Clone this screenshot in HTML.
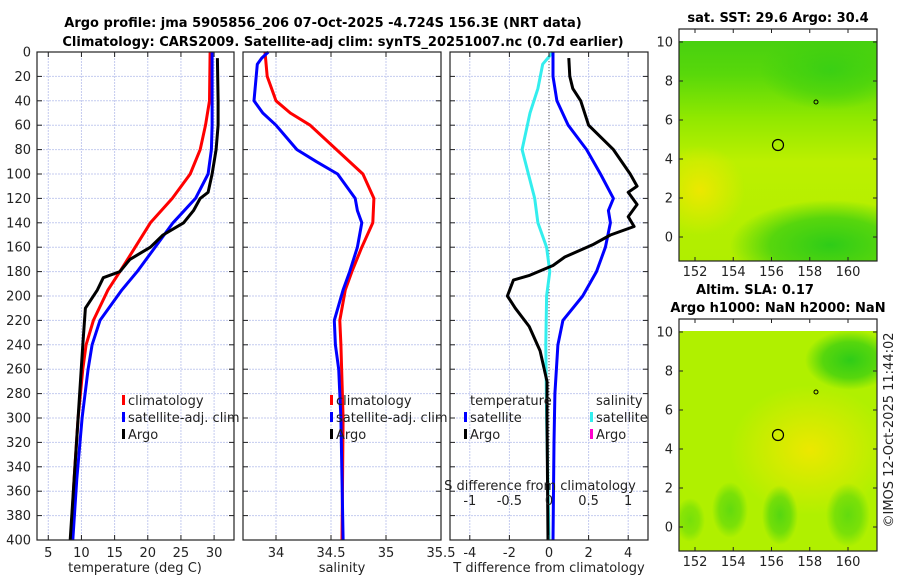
<!DOCTYPE html>
<html><head><meta charset="utf-8"><style>
body{margin:0;background:#fff;}
svg{display:block;font-family:"DejaVu Sans","Liberation Sans",sans-serif;}
</style></head><body>
<svg id="s" width="900" height="580" viewBox="0 0 900 580">
<rect width="900" height="580" fill="#fff"/>
<text x="323" y="27" font-size="13" font-weight="bold" text-anchor="middle">Argo profile: jma 5905856_206 07-Oct-2025 -4.724S 156.3E (NRT data)</text>
<text x="343" y="46" font-size="13" font-weight="bold" text-anchor="middle">Climatology: CARS2009. Satellite-adj clim: synTS_20251007.nc (0.7d earlier)</text>
<defs>
<radialGradient id="g1a" cx="0.5" cy="0.5" r="0.5"><stop offset="0" stop-color="#2ecc18"/><stop offset="0.6" stop-color="#40d010" stop-opacity="0.8"/><stop offset="1" stop-color="#40d010" stop-opacity="0"/></radialGradient>
<radialGradient id="g1b" cx="0.5" cy="0.5" r="0.5"><stop offset="0" stop-color="#ece800"/><stop offset="1" stop-color="#ece800" stop-opacity="0"/></radialGradient>
<linearGradient id="m1top" x1="0" y1="0" x2="0" y2="1"><stop offset="0" stop-color="#48d010"/><stop offset="0.15" stop-color="#58d80a"/><stop offset="0.35" stop-color="#90e800"/><stop offset="0.55" stop-color="#bcf000"/><stop offset="1" stop-color="#b0ee00"/></linearGradient>
<clipPath id="c1"><rect x="679" y="41" width="198" height="220"/></clipPath>
<clipPath id="c2"><rect x="679" y="331" width="198" height="220"/></clipPath>
</defs>
<g id="map1" clip-path="url(#c1)">
<rect x="679" y="41" width="198" height="220" fill="url(#m1top)"/>
<ellipse cx="700" cy="190" rx="45" ry="45" fill="url(#g1b)"/>
<ellipse cx="830" cy="245" rx="100" ry="45" fill="url(#g1a)"/>
<ellipse cx="830" cy="70" rx="70" ry="40" fill="url(#g1a)" opacity="0.7"/>
<circle cx="778" cy="145" r="5.5" fill="none" stroke="#000" stroke-width="1.2"/>
<circle cx="816" cy="102" r="2" fill="none" stroke="#000"/>
</g>
<g id="map2" clip-path="url(#c2)">
<rect x="679" y="331" width="198" height="220" fill="#b0f000"/>
<ellipse cx="810" cy="450" rx="80" ry="65" fill="url(#g1b)"/>
<ellipse cx="850" cy="360" rx="45" ry="30" fill="url(#g1a)"/>
<ellipse cx="730" cy="510" rx="18" ry="28" fill="url(#g1a)" opacity="0.6"/>
<ellipse cx="780" cy="515" rx="18" ry="30" fill="url(#g1a)" opacity="0.7"/>
<ellipse cx="848" cy="515" rx="22" ry="32" fill="url(#g1a)" opacity="0.6"/>
<ellipse cx="690" cy="520" rx="15" ry="22" fill="url(#g1a)" opacity="0.45"/>
<circle cx="778" cy="435" r="5.5" fill="none" stroke="#000" stroke-width="1.2"/>
<circle cx="816" cy="392" r="2" fill="none" stroke="#000"/>
</g>
<text x="778" y="22" font-size="13" font-weight="bold" text-anchor="middle">sat. SST: 29.6 Argo: 30.4</text>
<text x="755" y="294" font-size="13" font-weight="bold" text-anchor="middle">Altim. SLA: 0.17</text>
<text x="778" y="312" font-size="13" font-weight="bold" text-anchor="middle">Argo h1000: NaN h2000: NaN</text>
<text transform="translate(893,430) rotate(-90)" font-size="13" text-anchor="middle" fill="#222">©IMOS 12-Oct-2025 11:44:02</text>
</svg>
<script>
// ---- data ----
const tDepth=[0,40,60,80,100,120,140,160,180,195,220,240,260,300,350,400];
const tClim=[29.4,29.3,28.7,27.9,26.4,23.7,20.4,18.1,15.8,14.0,11.8,10.7,10.2,9.5,8.9,8.4];
const tSatDepth=[0,60,80,100,120,140,160,180,195,220,240,260,300,350,400];
const tSat=[29.7,29.7,29.6,29.1,27.2,23.8,21.1,18.4,16.1,12.8,11.6,11.0,10.1,9.3,8.7];
const tArgoDepth=[5,40,60,80,100,115,120,130,140,150,160,170,180,185,195,210,240,300,400];
const tArgo=[30.5,30.6,30.6,30.3,29.7,29.1,27.9,26.9,25.4,22.3,20.4,17.3,15.8,13.3,12.4,10.6,10.2,9.5,8.3];
const sClimDepth=[0,20,40,50,60,80,100,120,140,160,180,195,220,240,300,400];
const sClim=[33.9,33.92,34.0,34.13,34.31,34.55,34.79,34.89,34.88,34.78,34.69,34.63,34.58,34.59,34.61,34.6];
const sSatDepth=[0,5,10,20,40,50,60,80,90,100,120,130,140,160,180,195,220,240,260,300,400];
const sSat=[33.93,33.87,33.83,33.82,33.8,33.88,34.0,34.19,34.37,34.56,34.72,34.74,34.78,34.74,34.67,34.61,34.53,34.54,34.57,34.59,34.61];
const dTSatDepth=[0,20,40,60,80,100,120,130,140,160,180,200,220,240,280,320,400];
const dTSat=[0.2,0.2,0.4,0.97,1.9,2.6,3.25,3.0,3.1,2.85,2.4,1.7,0.7,0.45,0.3,0.25,0.2];
const dTArgoDepth=[5,20,30,40,60,80,100,110,115,125,135,143,150,158,168,175,183,187,200,210,225,245,270,300,400];
const dTArgo=[1.0,1.05,1.2,1.6,2.0,3.25,4.1,4.45,4.0,4.45,4.0,4.3,3.1,2.2,0.8,0.2,-0.97,-1.8,-2.1,-1.7,-1.0,-0.45,-0.1,-0.1,-0.05];
const dSSatDepth=[0,10,30,50,80,100,120,140,160,180,200,240,300,400];
const dSSat=[0.05,-0.08,-0.14,-0.24,-0.34,-0.26,-0.18,-0.14,-0.03,0.01,-0.03,-0.04,-0.03,0.0];
const depthTicks=[0,20,40,60,80,100,120,140,160,180,200,220,240,260,280,300,320,340,360,380,400];
const tTicks=[5,10,15,20,25,30];
const sTicks=[34,34.5,35,35.5];
const dTTicks=[-4,-2,0,2,4];
const dSTicks=[-1,-0.5,0,0.5,1];
const dSTickLabels=["-1","-0.5","0","0.5","1"];
const lonTicks=[152,154,156,158,160];
const latTicks=[0,2,4,6,8,10];

const NS="http://www.w3.org/2000/svg";
const svg=document.getElementById('s');
function el(tag,attrs,parent){const e=document.createElementNS(NS,tag);for(const k in attrs)e.setAttribute(k,attrs[k]);(parent||svg).appendChild(e);return e;}
const Y0=52,Y1=540;
const yD=d=>Y0+d*(Y1-Y0)/400;
function lin(d0,d1,r0,r1){return v=>r0+(v-d0)*(r1-r0)/(d1-d0);}
const panels=[
 {x0:37,x1:234,f:lin(3.3,33.0,37,234)},
 {x0:243,x1:441,f:lin(33.7,35.5,243,441)},
 {x0:450,x1:648,f:lin(-5,5,450,648)}
];
const fS=lin(-1.25,1.25,450,648);
function line(xs,ds,fx,color,name){
  const p=el('polyline',{points:xs.map((v,i)=>fx(v).toFixed(1)+','+yD(ds[i]).toFixed(1)).join(' '),fill:'none',stroke:color,'stroke-width':3,'stroke-linejoin':'round'});
  
  
}
function grid(p,ticks,fx){
  depthTicks.forEach(d=>{el('line',{x1:p.x0,x2:p.x1,y1:yD(d),y2:yD(d),stroke:'#c4cbef','stroke-width':1,'stroke-dasharray':'2,1'});});
  ticks.forEach(t=>{el('line',{x1:fx(t),x2:fx(t),y1:Y0,y2:Y1,stroke:'#c4cbef','stroke-width':1,'stroke-dasharray':'2,1'});});
}
grid(panels[0],tTicks,panels[0].f);
grid(panels[1],sTicks,panels[1].f);
grid(panels[2],dTTicks,panels[2].f);
el('line',{x1:549,x2:549,y1:Y0,y2:Y1,stroke:'#555','stroke-width':1,'stroke-dasharray':'1,2'});
line(tClim,tDepth,panels[0].f,'#ff0000','temp-climatology-line');
line(tSat,tSatDepth,panels[0].f,'#0000ff','temp-satellite-line');
line(tArgo,tArgoDepth,panels[0].f,'#000000','temp-argo-line');
line(sClim,sClimDepth,panels[1].f,'#ff0000','sal-climatology-line');
line(sSat,sSatDepth,panels[1].f,'#0000ff','sal-satellite-line');
line(dSSat,dSSatDepth,fS,'#33eeee','sal-diff-satellite-line');
line(dTSat,dTSatDepth,panels[2].f,'#0000ff','temp-diff-satellite-line');
line(dTArgo,dTArgoDepth,panels[2].f,'#000000','temp-diff-argo-line');
panels.forEach((p,i)=>{
  const r=el('rect',{x:p.x0,y:Y0,width:p.x1-p.x0,height:Y1-Y0,fill:'none',stroke:'#222','stroke-width':1.2});
  
  
  depthTicks.forEach(d=>{
    el('line',{x1:p.x0,x2:p.x0+5,y1:yD(d),y2:yD(d),stroke:'#222'});
    el('line',{x1:p.x1-5,x2:p.x1,y1:yD(d),y2:yD(d),stroke:'#222'});
  });
});
depthTicks.forEach(d=>{
  const t=el('text',{x:31,y:yD(d)+4.5,'font-size':13,'text-anchor':'end',fill:'#222'});
  t.textContent=d;
  
  
});
function xTicks(ticks,fx,labels,name){
  ticks.forEach((v,i)=>{
    el('line',{x1:fx(v),x2:fx(v),y1:Y1,y2:Y1-5,stroke:'#222'});
    el('line',{x1:fx(v),x2:fx(v),y1:Y0,y2:Y0+5,stroke:'#222'});
    const t=el('text',{x:fx(v),y:Y1+17,'font-size':13,'text-anchor':'middle',fill:'#222'});
    t.textContent=labels?labels[i]:v;
    
    
  });
}
xTicks(tTicks,panels[0].f,null,'temp-tick-label');
xTicks(sTicks,panels[1].f,null,'sal-tick-label');
xTicks(dTTicks,panels[2].f,null,'tdiff-tick-label');
dSTicks.forEach((v,i)=>{
  const t=el('text',{x:fS(v),y:505,'font-size':13,'text-anchor':'middle',fill:'#222'});
  t.textContent=dSTickLabels[i];
  
  
});
function txt(x,y,s,name,anchor,extra){const t=el('text',Object.assign({x:x,y:y,'font-size':13,'text-anchor':anchor||'start',fill:'#222'},extra||{}));t.textContent=s;return t;}
txt(135,572,'temperature (deg C)','temp-axis-title','middle');
txt(342,572,'salinity','sal-axis-title','middle');
txt(549,572,'T difference from climatology','tdiff-axis-title','middle');
txt(540,490,'S difference from climatology','sdiff-axis-title','middle');
function leg(x,y,color,label,name){
  el('rect',{x:x,y:y-10,width:3,height:10,fill:color});
  txt(x+6,y,label,name);
}
leg(122,405,'#ff0000','climatology','legend-temp-climatology');
leg(122,422,'#0000ff','satellite-adj. clim','legend-temp-satellite');
leg(122,439,'#000000','Argo','legend-temp-argo');
leg(330,405,'#ff0000','climatology','legend-sal-climatology');
leg(330,422,'#0000ff','satellite-adj. clim','legend-sal-satellite');
leg(330,439,'#000000','Argo','legend-sal-argo');
txt(470,405,'temperature','legend-tdiff-header');
leg(464,422,'#0000ff','satellite','legend-tdiff-satellite');
leg(464,439,'#000000','Argo','legend-tdiff-argo');
txt(596,405,'salinity','legend-sdiff-header');
leg(590,422,'#33eeee','satellite','legend-sdiff-satellite');
leg(590,439,'#ff00cc','Argo','legend-sdiff-argo');
const fLon=lin(152,160,695,848);
function mapAxes(top,bot,lat10y,lat0y,n){
  const fLat=lin(0,10,lat0y,lat10y);
  const r=el('rect',{x:679,y:top,width:198,height:bot-top,fill:'none',stroke:'#222','stroke-width':1.2});
  
  
  lonTicks.forEach(v=>{
    el('line',{x1:fLon(v),x2:fLon(v),y1:bot,y2:bot-4,stroke:'#222'});
    el('line',{x1:fLon(v),x2:fLon(v),y1:top,y2:top+4,stroke:'#222'});
    txt(fLon(v),bot+15,String(v),'map-lon-tick-label','middle');
  });
  latTicks.forEach(v=>{
    el('line',{x1:679,x2:683,y1:fLat(v),y2:fLat(v),stroke:'#222'});
    el('line',{x1:873,x2:877,y1:fLat(v),y2:fLat(v),stroke:'#222'});
    txt(673,fLat(v)+4.5,String(v),'map-lat-tick-label','end');
  });
}
mapAxes(29,261,42,237,1);
mapAxes(319,551,332,527,2);
</script>
</body></html>
